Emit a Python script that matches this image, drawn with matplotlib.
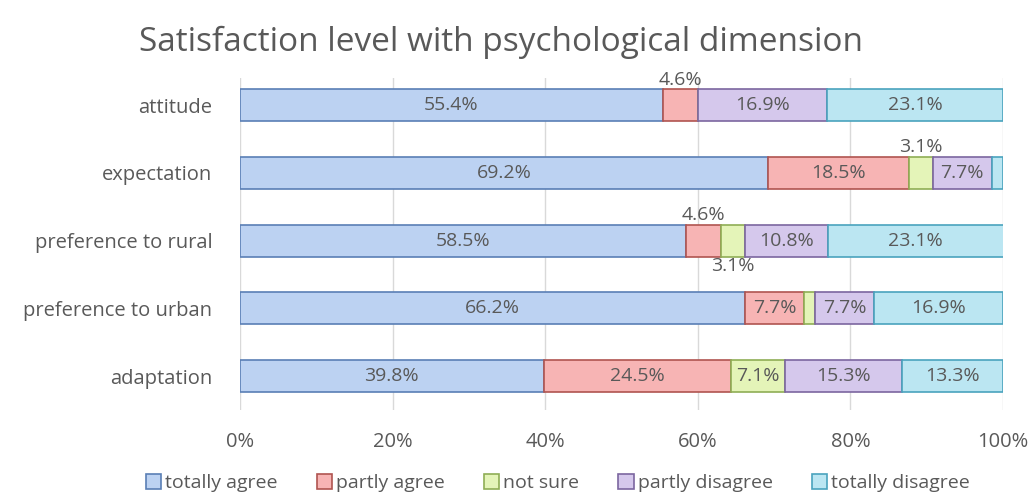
import matplotlib.pyplot as plt
import numpy as np

plt.rcParams.update({
    'font.family': ['Open Sans', 'DejaVu Sans'],
    'font.size': 11,
})

categories = ['attitude', 'expectation', 'preference to rural',
              'preference to urban', 'adaptation']
series = ['totally agree', 'partly agree', 'not sure',
          'partly disagree', 'totally disagree']
totally_agree = [55.4, 69.2, 58.5, 66.2, 39.8]
partly_agree = [4.6, 18.5, 4.6, 7.7, 24.5]
not_sure = [0.0, 3.1, 3.1, 1.5, 7.1]
partly_disagree = [16.9, 7.7, 10.8, 7.7, 15.3]
totally_disagree = [23.1, 1.5, 23.1, 16.9, 13.3]
values = [totally_agree, partly_agree, not_sure, partly_disagree, totally_disagree]

# where each cell's label goes: None = hidden, 'in', 'above', 'below'
label_pos = [
    ['in', 'above', None, 'in', 'in'],
    ['in', 'in', 'above', 'in', None],
    ['in', 'above', 'below', 'in', 'in'],
    ['in', 'in', None, 'in', 'in'],
    ['in', 'in', 'in', 'in', 'in'],
]

faces = ['#BCD2F2', '#F7B4B4', '#E4F4B8', '#D5C8EC', '#BBE6F2']
edges = ['#5A7FB5', '#B05450', '#8FAE55', '#7C66A0', '#4AA3BE']
text_color = '#595959'
fs = 14

fig = plt.figure(figsize=(10.33, 5.0), dpi=100)
ax = fig.add_axes([0.2323, 0.18, 0.7387, 0.664])

y = np.arange(len(categories))
left = np.zeros(len(categories))
bar_h = 0.47
for s, (vals, fc, ec) in enumerate(zip(values, faces, edges)):
    vals = np.array(vals)
    ax.barh(y, vals, left=left, height=bar_h, color=fc, edgecolor=ec,
            linewidth=1.2, label=series[s], zorder=3)
    for i, v in enumerate(vals):
        pos = label_pos[i][s]
        if pos is None:
            continue
        cx = left[i] + v / 2
        txt = f'{v:.1f}%'
        if pos == 'in':
            ax.text(cx, y[i], txt, ha='center', va='center', color=text_color,
                    fontsize=fs, zorder=4)
        elif pos == 'above':
            ax.text(cx, y[i] - bar_h / 2 - 0.01, txt, ha='center', va='bottom',
                    color=text_color, fontsize=fs, zorder=4)
        else:
            ax.text(cx, y[i] + bar_h / 2 + 0.01, txt, ha='center', va='top',
                    color=text_color, fontsize=fs, zorder=4)
    left += vals

ax.set_xlim(0, 100)
ax.set_ylim(4.5, -0.4)
ax.set_yticks(y)
ax.set_yticklabels(categories, color=text_color, fontsize=14.5)
ax.set_xticks(np.arange(0, 101, 20))
ax.set_xticklabels([f'{t}%' for t in range(0, 101, 20)], color=text_color,
                   fontsize=14.5)
ax.tick_params(axis='x', length=0, pad=16)
ax.tick_params(axis='y', length=0, pad=20)
ax.grid(axis='x', color='#D9D9D9', linewidth=1.0, zorder=0)
for sp in ax.spines.values():
    sp.set_visible(False)

fig.text(0.485, 0.915, 'Satisfaction level with psychological dimension',
         ha='center', va='center', fontsize=24, color=text_color)

handles, labels = ax.get_legend_handles_labels()
fig.legend(handles, labels, loc='center', bbox_to_anchor=(0.54, 0.034), ncol=5,
           frameon=False, fontsize=14, handlelength=0.8, handleheight=0.8,
           handletextpad=0.2, columnspacing=2.0, labelcolor=text_color)

plt.savefig('out.png', dpi=100)
